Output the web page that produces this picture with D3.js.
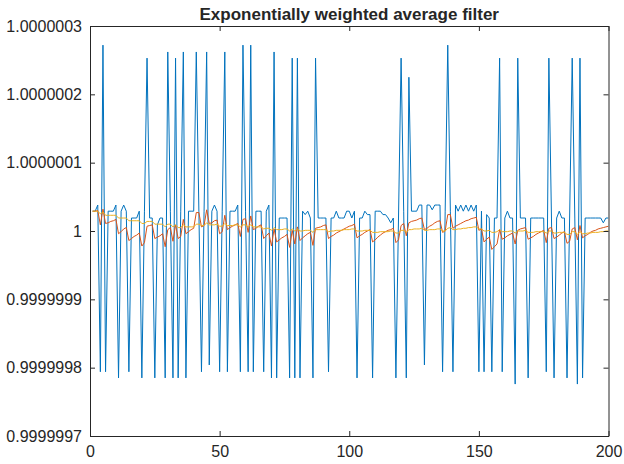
<!DOCTYPE html>
<html lang="en">
<head>
<meta charset="utf-8">
<script src="https://d3js.org/d3.v7.min.js"></script>
<style>
  body { margin: 0; background: #fff; }
  svg text { font-family: "Liberation Sans", Arial, Helvetica, sans-serif; fill: #262626; }
</style>
</head>
<body>
<script>
// all series are offsets from 1, in units of 1e-9 (sample index 1..200)
const rawSignal = [
  29, 29, 38, -206, 272, -206, 29, 29, 29, 38,
  -215, 29, 38, 29, -206, 19, 19, 19, 29, -215,
  29, 253, 19, 19, -215, 9, 19, 19, -215, 262,
  29, -215, 253, -215, 29, 262, -215, 29, 29, 29,
  262, 29, -206, 29, 262, -196, 29, 38, 29, -206,
  29, 262, -206, 29, 29, 29, 38, -206, 272, 29,
  -206, 272, -206, 29, 29, 29, -206, 29, 38, -215,
  262, -215, 19, 19, 19, 19, -215, 253, -215, 253,
  -215, 29, 24, 29, 19, -215, 253, 19, 19, 19,
  19, -206, 19, 19, 29, 19, 19, 19, 29, 29,
  19, 29, -215, 19, 19, 29, 24, 24, -215, 29,
  29, 29, 24, 24, 19, 12, 19, -215, 19, 253,
  29, -215, 225, 29, 29, 29, 38, 38, -196, 38,
  38, 31, 38, 38, 38, -206, 29, 272, 29, -206,
  38, 29, 38, 29, 38, 29, 38, 29, 38, -206,
  29, -206, 24, 19, -206, 19, 19, 253, -206, 19,
  29, 19, 19, -224, 253, 19, 19, 19, -215, 19,
  19, 19, 19, 19, 19, -206, 253, 19, -215, 19,
  29, 19, 19, -215, 19, 253, 19, -224, 253, -215,
  19, 19, 19, 19, 19, 19, 19, 12, 19, 19
];

const fastAvg = [
  29, 29, 30, 9, 32, 11, 12, 14, 15, 17,
  -4, -1, 3, 5, -14, -11, -8, -6, -3, -22,
  -17, 7, 8, 9, -11, -9, -7, -4, -23, 2,
  5, -15, 9, -11, -8, 17, -4, -1, 2, 4,
  27, 27, 6, 8, 31, 11, 12, 15, 16, -4,
  -1, 23, 2, 5, 7, 9, 11, -8, 17, 18,
  -2, 22, 2, 4, 7, 9, -11, -7, -3, -22,
  3, -16, -13, -10, -8, -5, -24, 1, -19, 6,
  -14, -10, -7, -4, -2, -21, 4, 5, 6, 8,
  9, -11, -8, -6, -3, -1, 1, 3, 5, 7,
  8, 10, -10, -7, -5, -2, 0, 2, -16, -13,
  -9, -6, -3, -1, 1, 2, 4, -17, -13, 8,
  11, -7, 12, 14, 15, 16, 18, 19, 2, 4,
  7, 9, 12, 14, 15, -2, 0, 24, 24, 4,
  7, 9, 11, 13, 15, 16, 18, 19, 20, 1,
  3, -16, -12, -9, -27, -23, -19, 2, -12, -10,
  -7, -5, -3, -19, 1, 3, 4, 5, -12, -10,
  -8, -5, -3, -1, 1, -17, 4, 5, -11, -9,
  -6, -3, -1, -18, -15, 3, 5, -13, 8, -10,
  -7, -5, -2, 0, 1, 3, 4, 5, 6, 7
];

const slowAvg = [
  29, 29, 29, 25, 28, 23, 23, 23, 23, 23,
  19, 19, 19, 19, 15, 15, 15, 15, 15, 11,
  11, 14, 14, 14, 10, 10, 10, 10, 6, 10,
  10, 6, 9, 5, 5, 9, 6, 6, 6, 6,
  10, 10, 8, 8, 12, 9, 9, 9, 10, 7,
  7, 11, 8, 8, 8, 9, 9, 6, 9, 9,
  6, 9, 6, 6, 6, 6, 3, 4, 4, 1,
  5, 2, 2, 2, 3, 3, 0, 3, 0, 3,
  0, 0, 1, 1, 1, -2, 2, 2, 2, 2,
  2, -1, 0, 0, 1, 1, 1, 2, 2, 2,
  3, 3, 0, 0, 0, 1, 1, 1, -2, -2,
  -2, -1, -1, -1, -1, 0, 0, -3, -3, 1,
  1, -2, 2, 2, 3, 3, 3, 4, 1, 1,
  2, 2, 2, 3, 3, 0, 0, 4, 5, 2,
  2, 3, 3, 4, 4, 5, 5, 6, 6, 3,
  3, 0, 0, 1, -2, -2, -1, 2, -1, -1,
  -1, 0, 0, -3, 0, 0, 0, 1, -2, -2,
  -2, -1, -1, -1, -1, -3, 0, 0, -3, -3,
  -2, -2, -2, -5, -5, -1, -1, -5, -1, -4,
  -4, -3, -3, -2, -2, -2, -1, -1, 0, 0
];

const xTicks = [0, 50, 100, 150, 200];
const yTicks = [-300, -200, -100, 0, 100, 200, 300];
const yTickLabels = ["0.9999997", "0.9999998", "0.9999999", "1", "1.0000001", "1.0000002", "1.0000003"];
const titleText = "Exponentially weighted average filter";

const W = 624, H = 464;
const margin = {left: 90, right: 15.5, top: 26, bottom: 28};
const iw = W - margin.left - margin.right;
const ih = H - margin.top - margin.bottom;

const svg = d3.select("body").append("svg")
    .attr("width", W).attr("height", H);

const g = svg.append("g")
    .attr("transform", `translate(${margin.left},${margin.top})`);

const x = d3.scaleLinear().domain([0, 200]).range([0, iw]);
const y = d3.scaleLinear().domain([-300, 300]).range([ih, 0]);

g.append("defs").append("clipPath").attr("id", "clip")
  .append("rect").attr("width", iw).attr("height", ih);

const line = d3.line()
    .x((d, i) => x(i + 1))
    .y(d => y(d));

const plot = g.append("g").attr("clip-path", "url(#clip)");

plot.append("path").datum(rawSignal)
    .attr("fill", "none").attr("stroke", "#0072BD").attr("stroke-width", 1)
    .attr("d", line);
plot.append("path").datum(fastAvg)
    .attr("fill", "none").attr("stroke", "#D95319").attr("stroke-width", 1)
    .attr("d", line);
plot.append("path").datum(slowAvg)
    .attr("fill", "none").attr("stroke", "#EDB120").attr("stroke-width", 1)
    .attr("d", line);

// axes, MATLAB style: ticks inside, box with mirrored ticks
const tl = 5;
const fmtY = (d, i) => yTickLabels[i];

const xb = g.append("g").attr("transform", `translate(0,${ih})`)
    .call(d3.axisBottom(x).tickValues(xTicks).tickSizeInner(-tl).tickSizeOuter(0).tickPadding(10));
const xt = g.append("g")
    .call(d3.axisTop(x).tickValues(xTicks).tickSizeInner(-tl).tickSizeOuter(0).tickFormat(""));
const yl = g.append("g")
    .call(d3.axisLeft(y).tickValues(yTicks).tickSizeInner(-tl).tickSizeOuter(0).tickPadding(8).tickFormat(fmtY));
const yr = g.append("g").attr("transform", `translate(${iw},0)`)
    .call(d3.axisRight(y).tickValues(yTicks).tickSizeInner(-tl).tickSizeOuter(0).tickFormat(""));

[xb, xt, yl, yr].forEach(a => {
  a.select(".domain").attr("stroke", "#262626").attr("stroke-width", 1);
  a.selectAll(".tick line").attr("stroke", "#262626").attr("stroke-width", 1);
  a.selectAll(".tick text").attr("font-size", 16).attr("fill", "#262626");
});

svg.append("text")
    .attr("x", margin.left + iw / 2).attr("y", 19.5)
    .attr("text-anchor", "middle")
    .attr("font-size", 17).attr("font-weight", "bold")
    .text(titleText);
</script>
</body>
</html>
